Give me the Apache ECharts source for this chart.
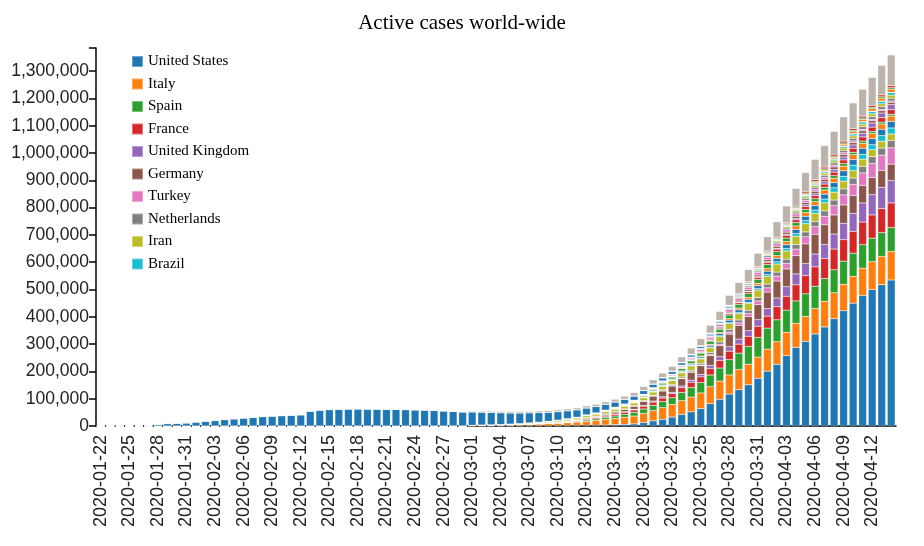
<!DOCTYPE html>
<html><head><meta charset="utf-8">
<script src="https://cdn.jsdelivr.net/npm/echarts@6/dist/echarts.min.js"></script>
<style>html,body{margin:0;padding:0;background:#fff}#c{width:924px;height:546px}</style>
</head><body><div id="c"></div>
<script>
const startDate = '2020-01-22', nDays = 84;
const usa = [70,90,110,140,200,250,390,500,560,900,1200,1600,2100,2700,3400,4400,6100,7700,13000,18800,24500,32700,42500,52000,63500,82000,98000,117000,133000,151000,175000,201000,226000,258000,288000,310000,337000,363000,393000,422000,450000,478000,500000,518000,535000];
const italy = [1577,1835,2263,2706,3296,3916,5061,6387,7985,8514,10590,12839,14955,17750,20603,23073,26062,28710,33190,37860,42681,46638,50418,54030,57521,62013,66414,70065,73880,75528,77635,80572,83049,85388,88274,91246,93187,94067,95262,96877,98273,100269,102253,103616,104291];
const spain = [82,114,149,210,250,350,470,600,1000,1600,2100,2800,4900,5700,7800,9100,10800,13500,16000,19100,22200,24400,30250,35000,38000,42800,48000,56000,60000,65000,72000,77000,80000,81000,82000,83000,82000,83000,84000,85000,85000,86000,86000,87000,88000];
const france = [100,130,190,280,380,600,900,1100,1200,1700,2200,2800,3600,4400,4400,6500,7600,8900,10500,11800,13000,14400,17000,19000,21000,24000,27500,31000,33000,37000,41000,44000,48000,51000,59000,67000,71000,74000,76000,79000,80000,83000,85000,88000,90000];
const uk = [30,36,45,70,100,150,190,250,300,350,430,530,760,1100,1300,1400,1850,2450,2550,3800,4700,5400,6300,7800,8900,11000,14000,16500,18500,20700,24000,28000,32000,35000,40000,44000,47000,51000,55000,60000,66000,70000,74000,78000,82000];
const germany = [117,150,180,230,440,650,780,1000,1150,1400,1900,2000,3500,3600,5500,7000,8500,11000,15000,18000,21000,23000,27000,29000,32000,36000,40000,46000,50000,52000,55000,60000,62000,65000,67000,72000,72000,72000,70000,67000,65000,64000,63000,62000,60000];
const turkey = [0,0,0,0,0,0,0,0,0,0,1,1,5,6,18,47,98,191,359,670,947,1236,1529,1872,2433,3629,5698,7402,9217,10827,13531,15679,18135,20086,23835,26000,28000,31500,34000,37000,41000,46000,52000,56000,60000];
const netherlands = [10,18,24,38,82,128,188,265,321,382,503,614,804,959,1135,1413,1705,2051,2460,2994,3631,4204,4749,5560,6412,7431,8603,9762,10866,11750,12667,13614,14697,15723,16627,17851,18803,19580,20549,21762,23097,23945,24413,25587,26710];
const iran = [2,5,18,28,43,61,95,139,245,388,593,1300,1600,1900,2300,2800,3300,3900,4600,5400,6000,6500,7000,7600,8200,9000,9600,10100,10500,11600,12800,14000,14700,15400,16000,17500,19000,21000,23000,25000,27000,28500,29500,30000,30500,30200,30000,29600,29000,28500,27500,26500,25500,25000,24000];
const brazil = [2,2,2,4,8,13,13,20,25,31,38,52,151,151,162,200,321,372,621,793,1021,1546,1924,2247,2554,2985,3417,3904,4256,4579,5717,6836,8044,9056,10278,11130,12056,13717,15927,17857,19789,18000,18500,21000,22000];
const belgium = [2,8,13,23,50,109,169,200,239,267,314,399,559,689,886,1058,1243,1486,1795,2257,2815,3401,3743,4269,4937,6235,7284,9134,9951,10836,11000,12000,13000,14000,15000,16000,17000,18000,19000,20000,21000,22000,22500,23000,24000];
const canada = [70,90,100,130,180,230,320,420,560,720,930,1300,1400,2000,2600,3300,4000,4600,5800,6600,7500,8500,9600,10000,11500,12500,13500,14000,15000,16000,17000,17500,18000,18500,19000,19500];
const switzerland = [360,640,850,1100,1350,2150,2300,2700,3000,4000,5200,6400,7000,8400,9500,10000,11000,12000,13000,13500,14000,14500,15000,14500,13000,12000,11500,10500,10000,9500,9000,8500,8000,7500,7000,6500];
const portugal = [40,60,80,110,170,240,330,440,640,780,1000,1280,1580,2000,2350,2990,3500,4260,5100,5800,6300,7300,8000,9000,10000,10400,11000,11500,12000,13000,14000,15000,15500,16000,16500,17000];
const russia = [15,20,25,40,50,60,85,100,140,190,240,300,360,420,480,610,800,1000,1200,1400,1800,2300,2700,3400,4000,5000,6000,7000,8000,9500,10500,12000,13500,15000,17000,19000];
const israel = [70,90,110,130,170,220,250,300,420,600,850,1200,1600,1900,2300,2900,3300,3800,4300,4800,5500,6200,6700,7200,7600,8200,8500,8900,9200,9500,9300,9000,8700,8500,8300,8100];
const austria = [130,180,240,300,500,800,1000,1300,1600,2000,2500,3000,3900,4400,5200,6500,7200,8000,8700,9100,9300,9400,9300,9000,8700,8400,8000,7600,7200,6800,6400,6000,5700,5300,5000,4700];
const sweden = [350,490,680,800,950,1000,1080,1150,1250,1400,1600,1700,1900,2000,2200,2500,2800,3200,3600,4000,4500,5000,5500,6000,6300,6600,7000,7500,7800,8200,8800,9200,9500,9800,10000,10300];
const ireland = [30,40,60,80,110,160,210,290,360,550,680,770,890,1100,1300,1500,1800,2100,2400,2700,3200,3700,4200,4700,5300,5800,6300,6800,7400,7800,8300,8900,9500,10000,10500,11000];
const india = [40,55,65,75,80,95,110,125,160,180,240,300,370,480,550,610,650,800,900,1000,1200,1450,1750,2100,2550,3000,3600,4200,4800,5200,5900,6700,7500,8000,8700,9500];
const china = [550,640,920,1350,2000,2800,5500,8900,9700,11300,14400,17200,19900,23500,26300,29000,31500,34500,36000,38000,39000,41000,54000,58000,60000,61000,62000,62500,62000,61500,61000,60500,60000,59000,58000,57000,55000,53000,51000,49000,47000,45000,43000,41000,39000,37000,35000,33000,31000,29000,27000,25000,23000,21000,19000,17000,15000,13500,12000,10500,9500,8500,7500,6800,6000,5400,4800,4300,3900,3500,3200,2900,2700,2500,2300,2100,2000,1900,1800,1700,1600,1500,1400,1300];
const peru = [0,0,0,0,0,0,0,0,0,0,10,20,30,40,60,80,110,150,230,310,360,390,410,470,570,620,840,950,1050,1300,1400,1600,1900,2200,2900,3300,3900,4800,5300,6300,7200,8200,9300,10500,11400];
const chile = [10,20,40,70,110,150,200,250,340,420,520,620,720,900,1100,1300,1500,1800,2000,2300,2500,2800,3100,3400,3700,3900,4100,4300,4400,4500,4600,4700,4800,4900,5000,5100];
const ecuador = [10,15,20,30,50,80,110,170,250,400,500,780,980,1100,1380,1580,1800,1900,2200,2700,3100,3300,3400,3500,3600,3700,6000,6400,6600,6700,6800,6800,6900,7000,7100,7200];
const others = [3500,3900,4300,4700,5000,5300,5600,5900,6100,6400,6700,7000,7500,8100,8800,9800,10900,12200,13800,15000,16000,17000,19500,22500,25500,28500,32000,36000,40500,45000,49000,52000,56500,61000,65000,69000,74000,79000,84000,89000,94000,99000,103000,108000,113000];

const countries = [
 ['United States',usa],['Italy',italy],['Spain',spain],['France',france],['United Kingdom',uk],
 ['Germany',germany],['Turkey',turkey],['Netherlands',netherlands],['Iran',iran],['Brazil',brazil],
 ['Belgium',belgium],['Canada',canada],['Switzerland',switzerland],['Portugal',portugal],['Russia',russia],
 ['Israel',israel],['Austria',austria],['Sweden',sweden],['Ireland',ireland],['India',india],['China',china],
 ['Peru',peru],['Chile',chile],['Ecuador',ecuador],['Other',others]];
const palette = ['#1f77b4','#ff7f0e','#2ca02c','#d62728','#9467bd','#8c564b','#e377c2','#7f7f7f','#bcbd22','#17becf'];

const dates = [];
{ const d = new Date(startDate+'T00:00:00Z'); for (let i=0;i<nDays;i++){ dates.push(d.toISOString().slice(0,10)); d.setUTCDate(d.getUTCDate()+1);} }
function pad(a){ const r = a.slice(-nDays); while (r.length<nDays) r.unshift(0); return r; }

const series = countries.map(([name,vals],i)=>({
  name, type:'bar', stack:'all', data:pad(vals), barCategoryGap:'18%',
  itemStyle:{color: name==='Other' ? '#bcb3ab' : palette[i%10], borderColor:'rgba(255,255,255,0.35)', borderWidth:0.5},
  emphasis:{disabled:true}
}));

const chart = echarts.init(document.getElementById('c'));
chart.setOption({
  animation:false,
  title:{text:'Active cases world-wide', left:'center', top:8, textStyle:{fontFamily:'Liberation Serif', fontSize:21, fontWeight:'normal', color:'#000'}},
  legend:{data:countries.slice(0,10).map(c=>c[0]), orient:'vertical', left:126, top:49, itemWidth:11, itemHeight:11, itemGap:7.5, icon:'rect',
    textStyle:{fontFamily:'Liberation Serif', fontSize:15, color:'#000'}},
  grid:{left:96, right:28, top:48, bottom:120},
  xAxis:{type:'category', data:dates,
    axisLine:{lineStyle:{color:'#000', width:1.5}},
    axisTick:{alignWithLabel:true, interval:(i)=>i%3===0, length:7, lineStyle:{color:'#000',width:1.5}},
    axisLabel:{interval:(i)=>i%3===0, rotate:90, fontFamily:'Liberation Sans', fontSize:18, color:'#222', margin:9}},
  yAxis:{type:'value', min:0, max:1385000, interval:100000,
    axisLine:{show:true, lineStyle:{color:'#000', width:1.5}},
    axisTick:{show:true, length:7, lineStyle:{color:'#000',width:1.5}},
    splitLine:{show:false},
    axisLabel:{fontFamily:'Liberation Sans', fontSize:17.5, color:'#222', margin:7, formatter:v=>v>1300000?'':v.toLocaleString('en-US')}},
  series
});
</script></body></html>
